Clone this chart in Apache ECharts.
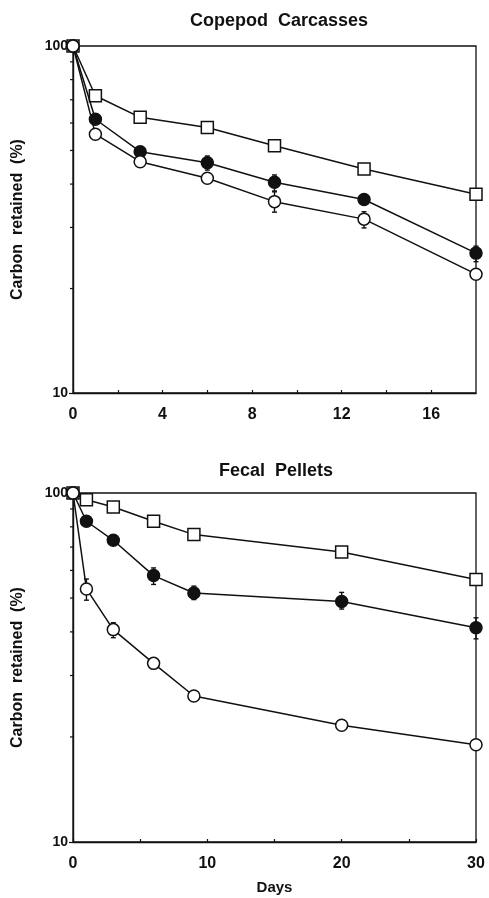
<!DOCTYPE html>
<html>
<head>
<meta charset="utf-8">
<script src="https://cdn.jsdelivr.net/npm/echarts@6/dist/echarts.min.js"></script>
<style>
html,body{margin:0;padding:0;background:#fff;}
#c{width:489px;height:898px;}
</style>
</head>
<body>
<div id="c"></div>
<script>
// ---- data ----
const topTitle = 'Copepod  Carcasses';
const bottomTitle = 'Fecal  Pellets';
const yName = 'Carbon  retained  (%)';
const xName = 'Days';

const topDays = [0, 1, 3, 6, 9, 13, 18];
const topSquares = [100, 71.9, 62.3, 58.2, 51.6, 44.2, 37.4];
const topFilled = [100, 61.5, 49.6, 46.1, 40.5, 36.1, 25.3];
const topOpen = [100, 55.7, 46.4, 41.6, 35.6, 31.7, 22.0];
const topFilledErr = [[6, 43.9, 48.2], [9, 38.2, 42.5], [18, 23.9, 26.5]];
const topOpenErr = [[9, 33.2, 38.0], [13, 29.9, 33.3]];

const botDays = [0, 1, 3, 6, 9, 20, 30];
const botSquares = [100, 95.7, 91.2, 83.0, 76.0, 67.8, 56.5];
const botFilled = [100, 83.0, 73.2, 58.0, 51.7, 48.9, 41.1];
const botOpen = [100, 53.1, 40.6, 32.5, 26.2, 21.6, 19.0];
const botFilledErr = [[6, 54.7, 61.0], [9, 49.5, 54.1], [20, 46.5, 51.9], [30, 38.2, 43.9]];
const botOpenErr = [[1, 49.3, 56.7], [3, 38.5, 42.5]];

const topXLabels = [0, 4, 8, 12, 16];
const botXLabels = [0, 10, 20, 30];
const yLabels = [10, 100];
const yMinorTicks = [20, 30, 40, 50, 60, 70, 80, 90];

// ---- helpers ----
const FONT = '"Liberation Sans", Arial, Helvetica, sans-serif';
const INK = '#111';
const pair = (xs, ys) => xs.map((x, i) => [x, ys[i]]);

function lineSeries(idx, xs, ys, symbol, fill, z) {
  return {
    type: 'line', xAxisIndex: idx, yAxisIndex: idx,
    data: pair(xs, ys), symbol: symbol, symbolSize: 12,
    showAllSymbol: true, z: z, animation: false,
    lineStyle: { color: INK, width: 1.5 },
    itemStyle: { color: fill, borderColor: INK, borderWidth: 1.5 }
  };
}
function errSeries(idx, data) {
  return {
    type: 'custom', xAxisIndex: idx, yAxisIndex: idx, data: data, z: 1, animation: false,
    renderItem: function (params, api) {
      const lo = api.coord([api.value(0), api.value(1)]);
      const hi = api.coord([api.value(0), api.value(2)]);
      const cw = 2.5;
      const st = { stroke: INK, lineWidth: 1.4 };
      return { type: 'group', children: [
        { type: 'line', shape: { x1: lo[0], y1: lo[1], x2: hi[0], y2: hi[1] }, style: st },
        { type: 'line', shape: { x1: lo[0] - cw, y1: lo[1], x2: lo[0] + cw, y2: lo[1] }, style: st },
        { type: 'line', shape: { x1: hi[0] - cw, y1: hi[1], x2: hi[0] + cw, y2: hi[1] }, style: st }
      ]};
    }
  };
}
function minorYSeries(idx) {
  return {
    type: 'custom', xAxisIndex: idx, yAxisIndex: idx, z: 1, animation: false, silent: true,
    data: yMinorTicks.map(v => [0, v]),
    renderItem: function (params, api) {
      const p = api.coord([api.value(0), api.value(1)]);
      return { type: 'line', shape: { x1: p[0] - 3, y1: p[1], x2: p[0], y2: p[1] },
               style: { stroke: INK, lineWidth: 1.2 } };
    }
  };
}
function xAxis(idx, max, interval, labels) {
  return {
    type: 'value', gridIndex: idx, min: 0, max: max, interval: interval,
    name: idx === 1 ? xName : '', nameLocation: 'middle', nameGap: 38,
    nameTextStyle: { fontFamily: FONT, fontWeight: 'bold', fontSize: 15, color: INK },
    axisLine: { show: true, lineStyle: { color: INK, width: 1.4 } },
    axisTick: { show: true, inside: true, length: 3, lineStyle: { color: INK, width: 1.2 } },
    splitLine: { show: false },
    axisLabel: {
      show: true, margin: 14, showMaxLabel: labels.indexOf(max) >= 0, showMinLabel: true,
      fontFamily: FONT, fontWeight: 'bold', fontSize: 16, color: INK,
      formatter: v => labels.indexOf(v) >= 0 ? String(v) : ''
    }
  };
}
function yAxis(idx) {
  return {
    type: 'log', logBase: 10, gridIndex: idx, min: 10, max: 100,
    name: yName, nameLocation: 'middle', nameGap: 47, nameRotate: 90,
    nameTextStyle: { fontFamily: FONT, fontWeight: 'bold', fontSize: 16, color: INK },
    axisLine: { show: true, lineStyle: { color: INK, width: 1.4 } },
    axisTick: { show: true, inside: false, length: 4, lineStyle: { color: INK, width: 1.2 } },
    splitLine: { show: false },
    axisLabel: {
      margin: 5, fontFamily: FONT, fontWeight: 'bold', fontSize: 14, color: INK,
      formatter: v => yLabels.indexOf(Math.round(v)) >= 0 ? String(Math.round(v)) : ''
    }
  };
}

const chart = echarts.init(document.getElementById('c'), null, { renderer: 'canvas' });
chart.setOption({
  backgroundColor: '#fff',
  animation: false,
  title: [
    { text: topTitle, left: 274, top: 7, textAlign: 'center',
      textStyle: { fontFamily: FONT, fontWeight: 'bold', fontSize: 18, color: INK } },
    { text: bottomTitle, left: 271, top: 457, textAlign: 'center',
      textStyle: { fontFamily: FONT, fontWeight: 'bold', fontSize: 18, color: INK } }
  ],
  grid: [
    { left: 73, top: 46, width: 403, height: 347, show: true, borderColor: INK, borderWidth: 1.3, backgroundColor: 'transparent' },
    { left: 73, top: 493, width: 403, height: 349, show: true, borderColor: INK, borderWidth: 1.3, backgroundColor: 'transparent' }
  ],
  xAxis: [xAxis(0, 18, 2, topXLabels), xAxis(1, 30, 5, botXLabels)],
  yAxis: [yAxis(0), yAxis(1)],
  series: [
    minorYSeries(0), minorYSeries(1),
    errSeries(0, topFilledErr), errSeries(0, topOpenErr),
    errSeries(1, botFilledErr), errSeries(1, botOpenErr),
    lineSeries(0, topDays, topSquares, 'rect', '#fff', 3),
    lineSeries(0, topDays, topFilled, 'circle', INK, 4),
    lineSeries(0, topDays, topOpen, 'circle', '#fff', 5),
    lineSeries(1, botDays, botSquares, 'rect', '#fff', 3),
    lineSeries(1, botDays, botFilled, 'circle', INK, 4),
    lineSeries(1, botDays, botOpen, 'circle', '#fff', 5)
  ]
});
</script>
</body>
</html>
